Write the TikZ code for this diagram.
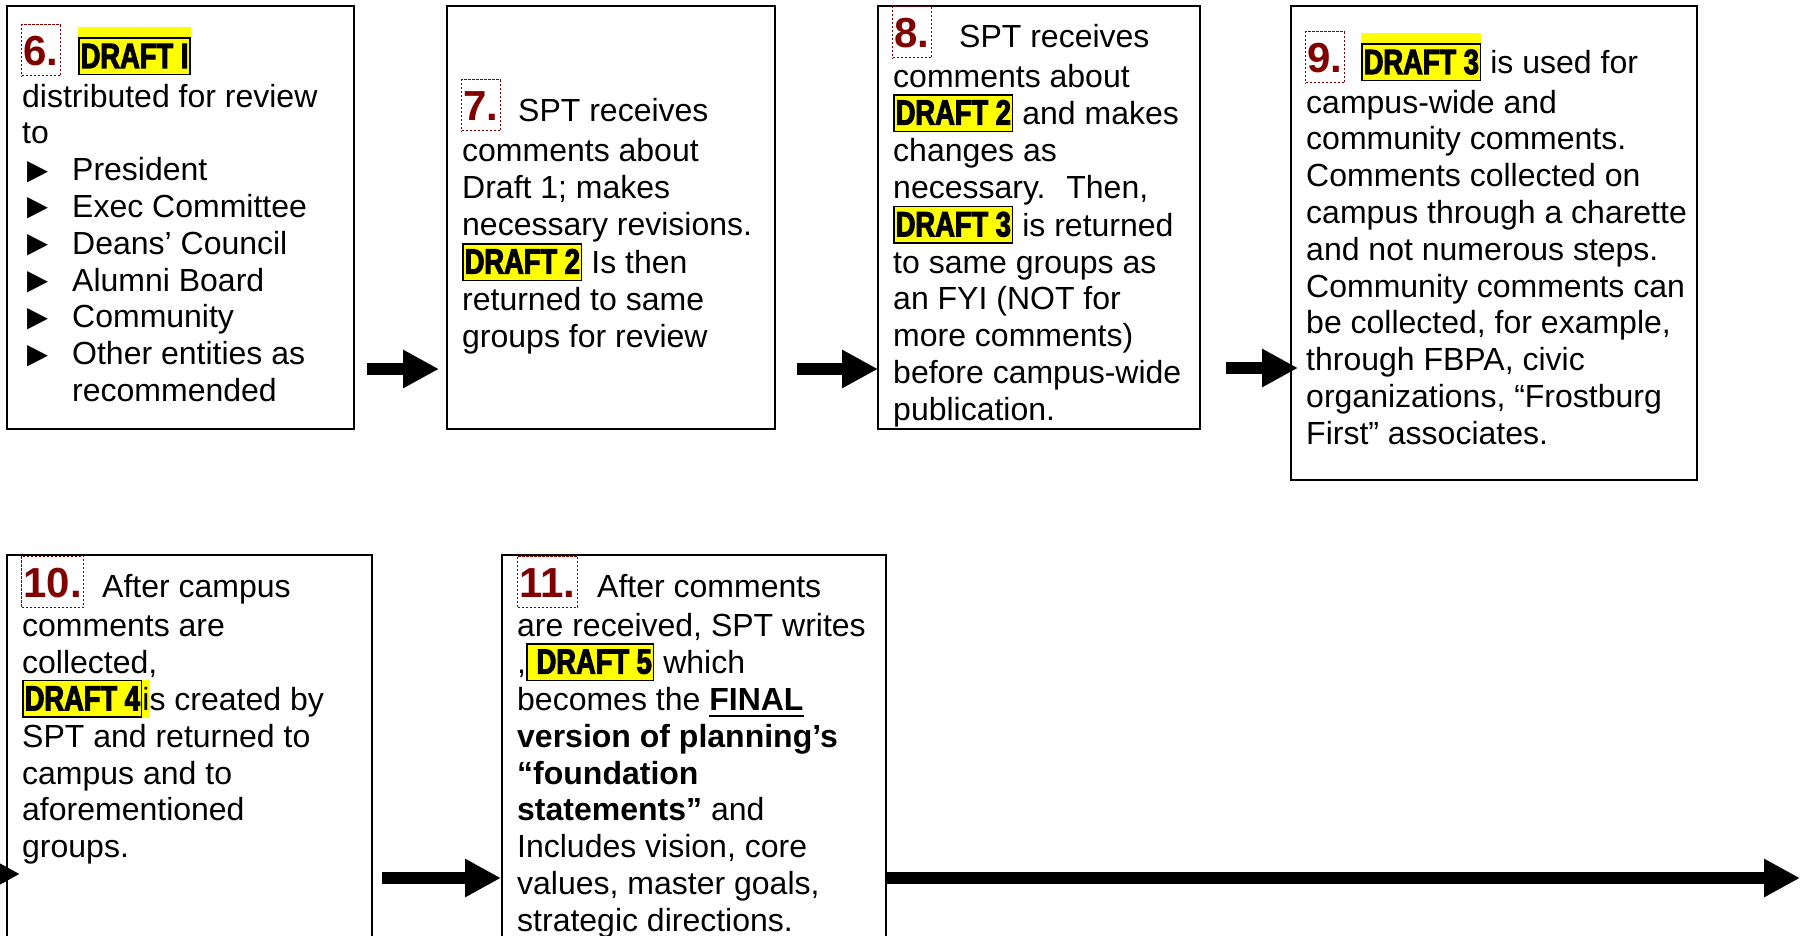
\documentclass[tikz,border=0pt]{standalone}
\usepackage{fontspec}
\usepackage{graphicx}
\setmainfont{Liberation Sans}
\newfontfamily\draftfont[FakeStretch=0.78,FakeBold=3]{Liberation Sans Bold}
\newfontfamily\symfont{DejaVu Sans}
\usetikzlibrary{arrows.meta}

\definecolor{numred}{RGB}{128,0,0}
\definecolor{hiyellow}{RGB}{255,255,0}

\setlength\fboxrule{1.5pt}
\setlength\fboxsep{0pt}
\newsavebox\lblbox
% highlighted draft label with a black frame
\newcommand\draftlab[1]{\fcolorbox{black}{hiyellow}{\rule[-6pt]{0pt}{35pt}\hspace{1pt}{\draftfont\fontsize{35}{35}\selectfont #1}\hspace{1pt}}}
% same label with the highlight running above the frame
\newcommand\draftlabhi[1]{\sbox\lblbox{\draftlab{#1}}\makebox[0pt][l]{\textcolor{hiyellow}{\rule[28pt]{\wd\lblbox}{13pt}}}\usebox\lblbox}
\newcommand\hiletter[1]{\colorbox{hiyellow}{\rule[-7.5pt]{0pt}{38pt}#1}}
\newcommand\ulbold[1]{\sbox\lblbox{\textbf{#1}}\makebox[0pt][l]{\rule[-7pt]{\wd\lblbox}{2.5pt}}\usebox\lblbox}
\newcommand\tri{\hspace*{5pt}\makebox[45pt][l]{\raisebox{1.5pt}{\resizebox{21pt}{18pt}{\symfont ▶}}}}

\tikzset{
  box/.style={draw, line width=1.5pt, inner sep=0pt, outer sep=0pt, anchor=north west},
  num/.style={draw=numred, line width=1pt, dash pattern=on 2.5pt off 1.5pt,
    text=numred, font=\fontsize{42}{48}\selectfont\bfseries,
    inner xsep=2pt, inner ysep=0pt, text height=41pt, text depth=10pt, anchor=base west},
  body/.style={inner sep=0pt, anchor=base west, font=\fontsize{32}{36.8}\selectfont},
  flow/.style={line width=12pt, -{Triangle[length=36pt,width=36pt]}},
}

\begin{document}
\begin{tikzpicture}[x=1pt,y=-1pt]
\useasboundingbox (0,0) rectangle (1809,936);

% step boxes
\node[box, minimum width=347pt, minimum height=423pt] (b6) at (7,6) {};
\node[box, minimum width=328pt, minimum height=423pt] (b7) at (447,6) {};
\node[box, minimum width=322pt, minimum height=423pt] (b8) at (878,6) {};
\node[box, minimum width=406pt, minimum height=474pt] (b9) at (1291,6) {};
\node[box, minimum width=365pt, minimum height=400pt] (b10) at (7,555) {};
\node[box, minimum width=384pt, minimum height=400pt] (b11) at (502,555) {};

% step numbers
\node[num] (n6) at (21,66) {6.};
\node[num] (n7) at (461,121) {7.};
\node[num] (n8) at (892,48) {8.};
\node[num] (n9) at (1305,73) {9.};
\node[num] (n10) at (21,597) {10.};
\node[num] (n11) at (517,597) {11.};

% step texts
\node[body] (t6) at (22,68) {\parbox[t]{520pt}{\raggedright
\hspace*{56pt}\draftlabhi{DRAFT I}\\[2.3pt]
distributed for review\\
to\\
\tri President\\
\tri Exec Committee\\
\tri Deans’ Council\\
\tri Alumni Board\\
\tri Community\\
\tri Other entities as\\
\hspace*{50pt}recommended}};

\node[body] (t7) at (462,122) {\parbox[t]{520pt}{\raggedright
\hspace*{56pt}SPT receives\\[3pt]
comments about\\
Draft 1; makes\\
necessary revisions.\\
\draftlab{DRAFT 2} Is then\\
returned to same\\
groups for review}};

\node[body] (t8) at (893,48) {\parbox[t]{520pt}{\raggedright
\hspace*{66pt}SPT receives\\[3pt]
comments about\\
\draftlab{DRAFT 2} and makes\\
changes as\\
necessary.\hspace{9pt} Then,\\
\draftlab{DRAFT 3} is returned\\
to same groups as\\
an FYI (NOT for\\
more comments)\\
before campus-wide\\
publication.}};

\node[body] (t9) at (1306,74) {\parbox[t]{520pt}{\raggedright
\hspace*{55pt}\draftlabhi{DRAFT 3} is used for\\[2.3pt]
campus-wide and\\
community comments.\\
Comments collected on\\
campus through a charette\\
and not numerous steps.\\
Community comments can\\
be collected, for example,\\
through FBPA, civic\\
organizations, “Frostburg\\
First” associates.}};

\node[body] (t10) at (22,597) {\parbox[t]{520pt}{\raggedright
\hspace*{80pt}After campus\\[3pt]
comments are\\
collected,\\
\draftlab{DRAFT 4}\hiletter{i}s created by\\
SPT and returned to\\
campus and to\\
aforementioned\\
groups.}};

\node[body] (t11) at (517,597) {\parbox[t]{520pt}{\raggedright
\hspace*{80pt}After comments\\[3pt]
are received, SPT writes\\
,\draftlab{\hspace{8pt}DRAFT 5} which\\
becomes the \ulbold{FINAL}\\
\textbf{version of planning’s}\\
\textbf{“foundation}\\
\textbf{statements”} and\\
Includes vision, core\\
values, master goals,\\
strategic directions.}};

% connectors
\draw[flow] ([xshift=13pt,yshift=60pt]b6.south east) -- ([xshift=-8pt,yshift=60pt]b7.south west);
\draw[flow] ([xshift=22pt,yshift=60pt]b7.south east) -- ([yshift=60pt]b8.south west);
\coordinate (s89) at ([xshift=26pt,yshift=61pt]b8.south east);
\draw[flow] (s89) -- ([xshift=7pt]s89 -| b9.west);
\coordinate (feed) at (-60,874);
\draw[flow] (feed) -- ([xshift=13pt]feed -| b10.west);
\coordinate (s1011) at ([xshift=10pt,yshift=-323pt]b10.north east);
\draw[flow] (s1011) -- ([xshift=-1pt]s1011 -| b11.west);
\coordinate (out) at (1800,878);
\draw[flow] ([yshift=-323pt]b11.north east) -- (out);
\end{tikzpicture}
\end{document}
